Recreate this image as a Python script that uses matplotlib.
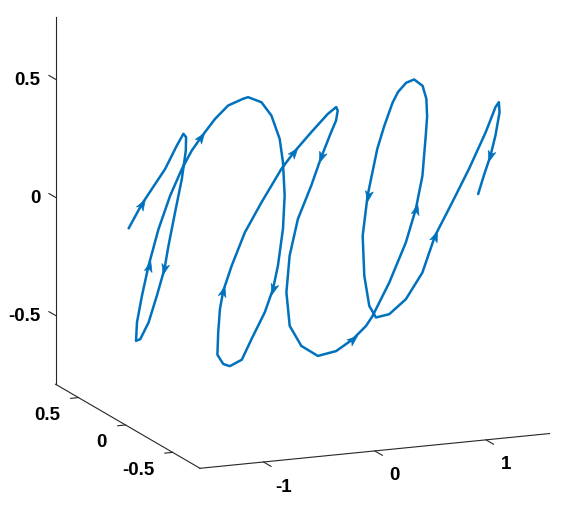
import numpy as np
import matplotlib
matplotlib.use('Agg')
import matplotlib.pyplot as plt
from matplotlib.path import Path
from matplotlib.markers import MarkerStyle
from matplotlib.transforms import Affine2D
from mpl_toolkits.mplot3d import proj3d

# curve points (x, y, z in data units)
curve_x = [-1.543, -1.407, -1.257, -1.195, -1.178, -1.179, -1.207, -1.268, -1.337, -1.371,
           -1.365, -1.357, -1.347, -1.354, -1.35, -1.282, -1.17, -1.06, -0.936, -0.849,
           -0.786, -0.756, -0.74, -0.725, -0.716, -0.675, -0.681, -0.62, -0.573, -0.524,
           -0.503, -0.479, -0.452, -0.421, -0.398, -0.387, -0.388, -0.39, -0.43, -0.456,
           -0.466, -0.425, -0.384, -0.346, -0.279, -0.194, -0.112, -0.052, -0.023, 0.031,
           0.086, 0.111, 0.091, 0.05, -0.019, -0.142, -0.248, -0.36, -0.392, -0.328,
           -0.163, 0.077, 0.327, 0.551, 0.742, 0.895, 0.971, 1.138, 1.262, 1.292,
           1.267, 1.17, 1.106, 1.032, 0.939, 0.812, 0.698, 0.592, 0.516, 0.416,
           0.345, 0.275, 0.29, 0.423, 0.637, 0.807, 1.011, 1.203, 1.368, 1.465,
           1.518, 1.53, 1.55, 1.56, 1.565, 1.567, 1.568, 1.569, 1.57, 1.571]
curve_y = [0.0, 0.02, -0.05, -0.1, -0.15, -0.18, -0.21, -0.24, -0.25, -0.22,
           -0.17, -0.08, 0.02, 0.1, 0.15, 0.22, 0.3, 0.36, 0.4, 0.38,
           0.33, 0.26, 0.18, 0.05, -0.08, -0.19, -0.25, -0.32, -0.37, -0.4,
           -0.41, -0.4, -0.35, -0.26, -0.18, -0.08, 0.06, 0.16, 0.24, 0.28,
           0.33, 0.37, 0.4, 0.41, 0.4, 0.36, 0.28, 0.14, 0.04, -0.08,
           -0.19, -0.25, -0.29, -0.32, -0.35, -0.39, -0.41, -0.4, -0.35, -0.24,
           -0.08, 0.08, 0.2, 0.27, 0.32, 0.36, 0.38, 0.4, 0.37, 0.3,
           0.2, 0.05, -0.04, -0.12, -0.19, -0.25, -0.3, -0.34, -0.37, -0.4,
           -0.41, -0.39, -0.32, -0.18, 0.02, 0.15, 0.25, 0.3, 0.32, 0.3,
           0.18, 0.017, -0.137, -0.23, -0.26, -0.265, -0.22, -0.166, -0.094, -0.033]
curve_z = [0.04, 0.132, 0.29, 0.397, 0.458, 0.451, 0.402, 0.292, 0.157, 0.01,
           -0.101, -0.235, -0.372, -0.461, -0.48, -0.421, -0.333, -0.225, -0.084, 0.057,
           0.179, 0.272, 0.346, 0.453, 0.54, 0.592, 0.613, 0.605, 0.558, 0.464,
           0.367, 0.222, 0.068, -0.11, -0.229, -0.351, -0.497, -0.607, -0.651, -0.65,
           -0.622, -0.539, -0.449, -0.376, -0.271, -0.124, 0.018, 0.189, 0.282, 0.392,
           0.492, 0.534, 0.529, 0.495, 0.457, 0.366, 0.256, 0.117, -0.048, -0.232,
           -0.419, -0.552, -0.634, -0.64, -0.611, -0.571, -0.537, -0.408, -0.237, -0.081,
           0.084, 0.293, 0.397, 0.495, 0.571, 0.618, 0.621, 0.597, 0.561, 0.474,
           0.383, 0.184, -0.003, -0.211, -0.395, -0.482, -0.501, -0.458, -0.358, -0.202,
           -0.035, 0.143, 0.333, 0.461, 0.489, 0.447, 0.338, 0.24, 0.139, 0.047]
# curve points that carry a direction arrow
arrow_idx = [1, 10, 17, 22, 34, 43, 48, 55, 64, 69, 81, 89, 97]

x_lim = (-1.571, 1.571)
y_lim = (-0.791, 0.744)
z_lim = (-0.791, 0.763)
x_ticks = [-1, 0, 1]
y_ticks = [-0.5, 0, 0.5]
z_ticks = [-0.5, 0, 0.5]

W, H = 562, 506
fig = plt.figure(figsize=(W / 100, H / 100), dpi=100)
ax = fig.add_axes([0, 0, H / W, 1], projection='3d', proj_type='ortho')
ax.view_init(elev=13.92, azim=-112.46)
ax.set_box_aspect((1, 1, 1))
ax.set_xlim(*x_lim)
ax.set_ylim(*y_lim)
ax.set_zlim(*z_lim)
ax.set_axis_off()


def to_px(p):
    X, Y, _ = proj3d.proj_transform(p[0], p[1], p[2], ax.M)
    d = ax.transData.transform((X, Y))
    return np.array([d[0], H - d[1]])


# place the axes box so two of its corners land where the reference has them
tA = np.array([200, 469.3])
tB = np.array([55, 18.3])
A = (x_lim[0], y_lim[0], z_lim[0])
B = (x_lim[0], y_lim[1], z_lim[1])
for _ in range(4):
    fig.canvas.draw()
    a = to_px(A)
    b = to_px(B)
    s = np.linalg.norm(tB - tA) / np.linalg.norm(b - a)
    pos = ax.get_position()
    c = np.array([(pos.x0 + pos.x1) / 2 * W, H - (pos.y0 + pos.y1) / 2 * H])
    nc = tA - s * (a - c)
    w = pos.width * W * s
    h = pos.height * H * s
    ax.set_position([(nc[0] - w / 2) / W, 1 - (nc[1] + h / 2) / H, w / W, h / H])
fig.canvas.draw()

# axis lines, ticks and tick labels (MATLAB style box edges)
x0, x1 = x_lim
y0, y1 = y_lim
z0, z1 = z_lim
axis_kw = dict(color='#262626', lw=0.8)
font_kw = dict(fontsize=13.5, fontweight='bold', family='Liberation Sans')
ax.plot([x0, x1], [y0, y0], [z0, z0], **axis_kw)
ax.plot([x0, x0], [y0, y1], [z0, z0], **axis_kw)
ax.plot([x0, x0], [y1, y1], [z0, z1], **axis_kw)


def label(p, s, ha):
    q = to_px(p)
    fig.text(q[0] / W, 1 - q[1] / H, s, ha=ha, va='center', **font_kw)


for t in x_ticks:
    ax.plot([t, t], [y0, y0 - 0.08], [z0, z0], **axis_kw)
    label((t, y0 - 0.21, z0 - 0.053), f'{t:g}', 'center')
for t in y_ticks:
    ax.plot([x0, x0 - 0.07], [t, t], [z0, z0], **axis_kw)
    label((x0 - 0.166, t, z0 - 0.064), f'{t:g}', 'right')
for t in z_ticks:
    ax.plot([x0, x0], [y1, y1 + 0.07], [t, t], **axis_kw)
    label((x0 - 0.134, y1, t + 0.006), f'{t:g}', 'right')

blue = '#0072BD'
ax.plot(curve_x, curve_y, curve_z, color=blue, lw=1.8,
        solid_joinstyle='round', solid_capstyle='round')

# arrowheads along the curve, turned to the local direction on screen
head = Path([(1, 0), (-1, 0.75), (-0.45, 0), (-1, -0.75), (1, 0)],
            [Path.MOVETO, Path.LINETO, Path.LINETO, Path.LINETO, Path.CLOSEPOLY])
for i in arrow_idx:
    p0 = to_px((curve_x[i - 1], curve_y[i - 1], curve_z[i - 1]))
    p1 = to_px((curve_x[i + 1], curve_y[i + 1], curve_z[i + 1]))
    ang = np.degrees(np.arctan2(-(p1[1] - p0[1]), p1[0] - p0[0]))
    m = MarkerStyle(head, transform=Affine2D().rotate_deg(ang))
    ax.plot([curve_x[i]], [curve_y[i]], [curve_z[i]], marker=m, ms=7.5,
            color=blue, mew=0.5)

plt.savefig('out.png', dpi=100)
